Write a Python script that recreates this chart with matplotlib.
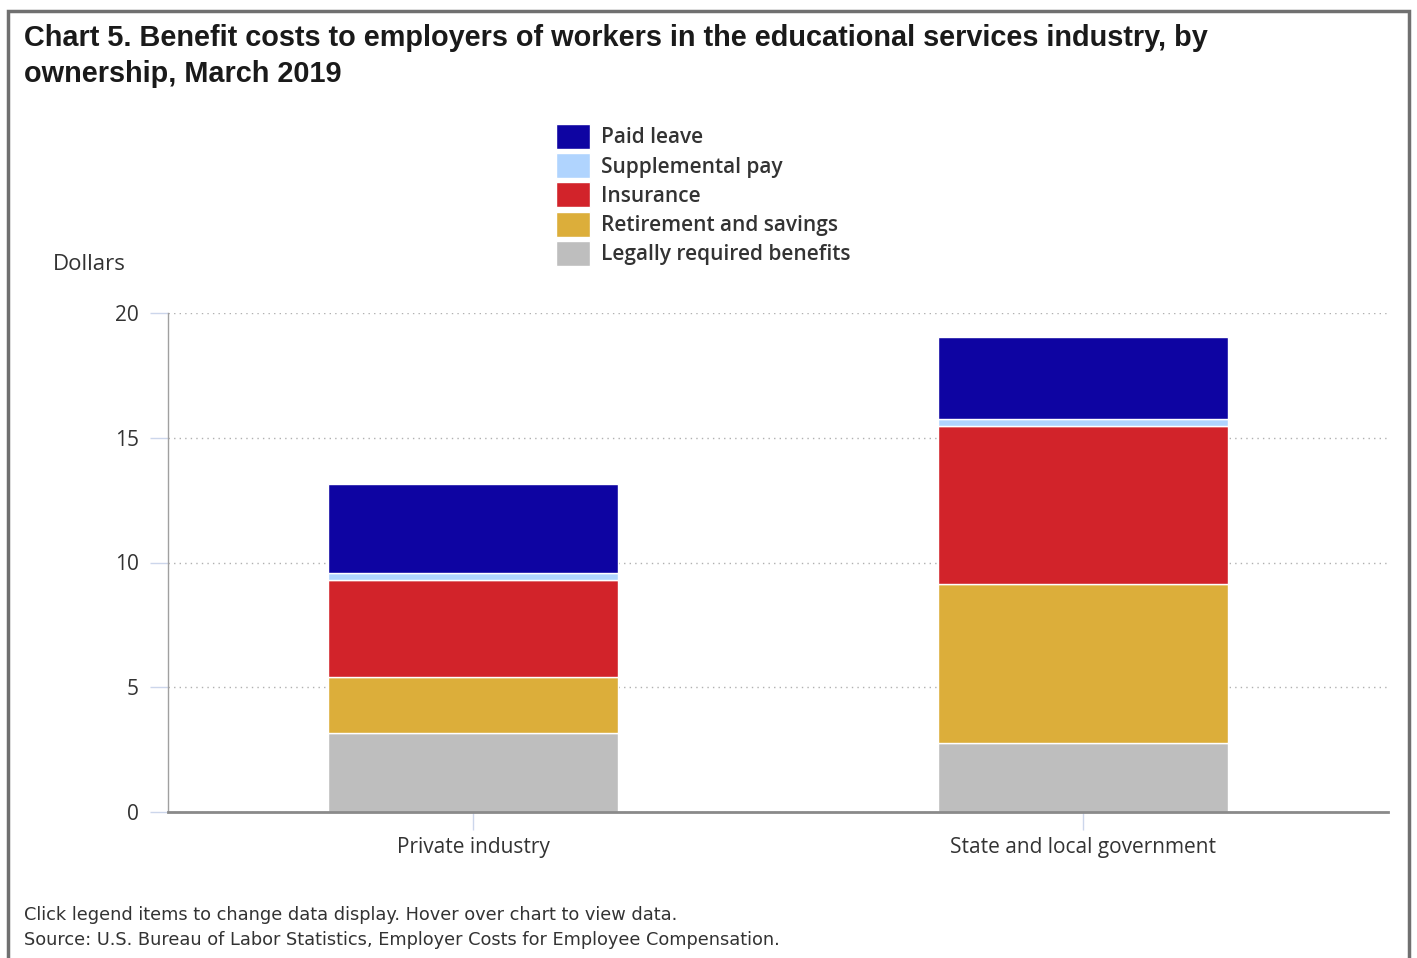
import matplotlib.pyplot as plt
import matplotlib.patches as patches
import numpy as np

# Employer benefit costs, dollars per hour worked, March 2019
categories = ["Private industry", "State and local government"]
legally_required = [3.17, 2.76]
retirement = [2.23, 6.39]
insurance = [3.91, 6.33]
supplemental = [0.26, 0.29]
paid_leave = [3.57, 3.26]

series = [
  ("Legally required benefits", legally_required, "#bebebe"),
  ("Retirement and savings", retirement, "#dcae3a"),
  ("Insurance", insurance, "#d2232a"),
  ("Supplemental pay", supplemental, "#b0d4fe"),
  ("Paid leave", paid_leave, "#0e04a2"),
]

yticks = [0, 5, 10, 15, 20]

W, H = 1417, 958

def fx(px):
  return px / W

def fy(py):
  return 1 - py / H

plt.rcParams['font.family'] = ['Open Sans', 'DejaVu Sans']

fig = plt.figure(figsize=(W / 100, H / 100), dpi=100)

# outer frame of the chart box
frame = patches.Rectangle((fx(8), -0.05), fx(1401), fy(11) + 0.05,
                          transform=fig.transFigure, fill=False,
                          edgecolor='#707070', linewidth=2.5)
fig.patches.append(frame)

ax = fig.add_axes([fx(168), fy(812), fx(1220), 499 / H])

x = np.arange(len(categories))
bottom = np.zeros(len(categories))
bars = {}
for name, vals, col in series:
  bars[name] = ax.bar(x, vals, 0.477, bottom=bottom, color=col,
                      edgecolor='white', linewidth=1, zorder=3)
  bottom += np.array(vals)

ax.set_xlim(-0.5, 1.5)
ax.set_ylim(0, 20)
ax.set_yticks(yticks)
ax.set_yticklabels([str(t) for t in yticks], fontsize=15, color='#333333')
ax.set_xticks(x)
ax.set_xticklabels(categories, fontsize=15, color='#333333')
ax.tick_params(axis='y', length=13, width=1, color='#ccd6eb', pad=8)
ax.tick_params(axis='x', length=13, width=1, color='#ccd6eb', pad=5)

ax.grid(axis='y', linestyle=(0, (1, 3)), color='#b0b0b0', linewidth=1, zorder=0)
for s in ['top', 'right']:
  ax.spines[s].set_visible(False)
ax.spines['left'].set_color('#a0a0a0')
ax.spines['left'].set_linewidth(1)
ax.spines['bottom'].set_color('#8a8a8a')
ax.spines['bottom'].set_linewidth(2)
ax.spines['left'].set_zorder(4)
ax.spines['bottom'].set_zorder(4)

fig.text(fx(53), fy(265), "Dollars", fontsize=16, color='#333333',
         ha='left', va='center')

title_font = dict(fontsize=20.8, fontweight='bold', color='#1a1a1a',
                  family=['Liberation Sans', 'DejaVu Sans'], ha='left', va='baseline')
fig.text(fx(24), fy(46),
         "Chart 5. Benefit costs to employers of workers in the educational services industry, by",
         **title_font)
fig.text(fx(24), fy(82), "ownership, March 2019", **title_font)

handles = [bars[n][0] for n, _, _ in reversed(series)]
labels = [n for n, _, _ in reversed(series)]
leg = fig.legend(handles, labels, loc='upper left',
                 bbox_to_anchor=(fx(556), fy(124)),
                 frameon=False, fontsize=15, handlelength=1.63,
                 handleheight=1.47, labelspacing=0.2, handletextpad=0.53,
                 borderaxespad=0, borderpad=0)
for t in leg.get_texts():
  t.set_color('#333333')
  t.set_fontweight('semibold')

foot_font = dict(fontsize=12.8, color='#333333', family=['DejaVu Sans'],
                 ha='left', va='center')
fig.text(fx(24), fy(915),
         "Click legend items to change data display. Hover over chart to view data.",
         **foot_font)
fig.text(fx(24), fy(940),
         "Source: U.S. Bureau of Labor Statistics, Employer Costs for Employee Compensation.",
         **foot_font)

fig.savefig('out.png', dpi=100)
